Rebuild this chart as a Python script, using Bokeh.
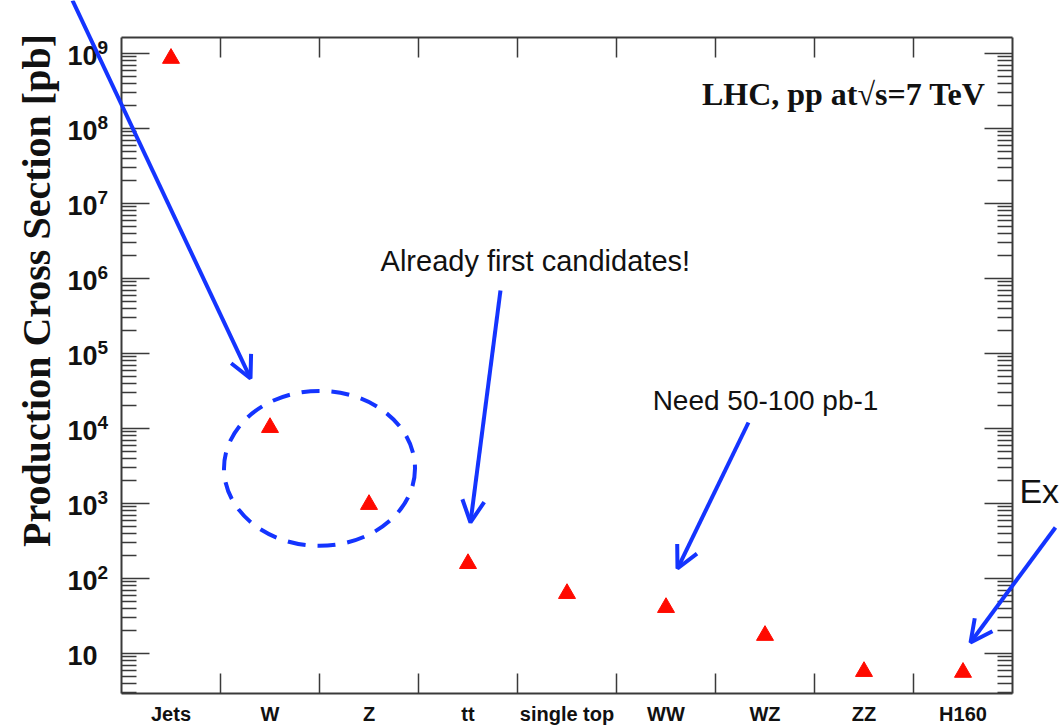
import math
from bokeh.plotting import figure
from bokeh.models import (FixedTicker, LinearAxis, LogAxis, Range1d, Label,
                          Arrow, OpenHead, ColumnDataSource)
from bokeh.embed import file_html
from bokeh.resources import INLINE

# ---------------- data ----------------
categories = ["Jets", "W", "Z", "tt", "single top", "WW", "WZ", "ZZ", "H160"]
cross_section_pb = [8.6e8, 1.03e4, 970, 158, 63, 41, 17.4, 5.75, 5.6]

y_exponents = [1, 2, 3, 4, 5, 6, 7, 8, 9]
y_tick_labels_base = ["10"] * 9
y_tick_labels_exp = ["", "2", "3", "4", "5", "6", "7", "8", "9"]

# ---------------- layout / styles ----------------
BLUE = "#1434ff"
RED = "#ff0a00"
AXIS_COL = "#3a3a3a"
TXT = "#111111"
SANS = "Liberation Sans"
SERIF = "Liberation Serif"
PX_PER_DECADE = 75.0
PX_PER_CAT = 99.0

n = len(categories)
x_pos = list(range(n))
# plotting area bounds (axes drawn at these, the canvas around is free for notes)
X_LO, X_HI = -0.5, n - 0.5
Y_LO, Y_HI = 10 ** (1 - 40 / PX_PER_DECADE), 10 ** (9 + 16 / PX_PER_DECADE)

y_major = [10 ** k for k in y_exponents]
y_minor = [m * 10 ** k for k in range(0, 10) for m in range(2, 10)
           if Y_LO <= m * 10 ** k <= Y_HI]

p = figure(width=1062, height=725,
           x_range=Range1d(X_LO - 121 / PX_PER_CAT, X_LO + 941 / PX_PER_CAT),
           y_range=Range1d(10 ** (1 - 72 / PX_PER_DECADE), 10 ** (9 + 53 / PX_PER_DECADE)),
           y_axis_type="log", x_axis_type="linear",
           output_backend="svg", toolbar_location=None)
p.min_border = 0
p.min_border_left = 0
p.min_border_right = 0
p.min_border_top = 0
p.min_border_bottom = 0
p.xgrid.visible = False
p.ygrid.visible = False
p.outline_line_color = None
p.background_fill_color = "white"
p.border_fill_color = "white"

x_ticker = FixedTicker(ticks=x_pos, minor_ticks=[i + 0.5 for i in x_pos[:-1]])
y_ticker = FixedTicker(ticks=y_major, minor_ticks=y_minor)


def style_x(ax, loc, labels):
    ax.fixed_location = loc
    ax.bounds = (X_LO, X_HI)
    ax.ticker = x_ticker
    ax.major_tick_in = 0
    ax.major_tick_out = 0
    ax.minor_tick_in = 20
    ax.minor_tick_out = 0
    ax.minor_tick_line_color = AXIS_COL
    ax.minor_tick_line_width = 1.5
    ax.axis_line_color = AXIS_COL
    ax.axis_line_width = 2
    ax.major_label_overrides = {i: (c if labels else "") for i, c in enumerate(categories)}
    ax.major_label_text_font = SANS
    ax.major_label_text_font_style = "bold"
    ax.major_label_text_font_size = "20px"
    ax.major_label_text_color = TXT
    ax.major_label_standoff = 9


def style_y(ax, loc):
    ax.fixed_location = loc
    ax.bounds = (Y_LO, Y_HI)
    ax.ticker = y_ticker
    ax.major_tick_in = 28
    ax.major_tick_out = 0
    ax.minor_tick_in = 15
    ax.minor_tick_out = 0
    ax.major_tick_line_color = AXIS_COL
    ax.minor_tick_line_color = AXIS_COL
    ax.major_tick_line_width = 1.5
    ax.minor_tick_line_width = 1.5
    ax.axis_line_color = AXIS_COL
    ax.axis_line_width = 2
    ax.major_label_overrides = {v: "" for v in y_major}


style_x(p.xaxis[0], Y_LO, True)
style_y(p.yaxis[0], X_LO)

top_axis = LinearAxis()
style_x(top_axis, Y_HI, False)
p.add_layout(top_axis, "above")

right_axis = LogAxis()
style_y(right_axis, X_HI)
p.add_layout(right_axis, "right")

# data points
src = ColumnDataSource(dict(x=x_pos, y=cross_section_pb, cat=categories))
p.scatter("x", "y", source=src, marker="triangle", size=17,
          fill_color=RED, line_color=RED)

# y tick labels (10 with superscript exponent)
x_lab = X_LO - 24 / PX_PER_CAT
for k, base, ex in zip(y_exponents, y_tick_labels_base, y_tick_labels_exp):
    p.add_layout(Label(x=x_lab, y=10 ** (k - 2 / PX_PER_DECADE), text=base,
                       text_align="right", text_baseline="middle",
                       text_font=SANS, text_font_style="bold",
                       text_font_size="27px", text_color=TXT))
    if ex:
        p.add_layout(Label(x=x_lab, y=10 ** (k + 6 / PX_PER_DECADE), text=ex,
                           text_align="left", text_baseline="middle",
                           text_font=SANS, text_font_style="bold",
                           text_font_size="19px", text_color=TXT))

# y axis title
p.add_layout(Label(x=X_LO - 85 / PX_PER_CAT, y=10 ** 5.84,
                   text="Production Cross Section [pb]",
                   angle=math.pi / 2, text_align="center", text_baseline="middle",
                   text_font=SERIF, text_font_style="bold", text_font_size="40px",
                   text_color=TXT))

# header text
p.add_layout(Label(x=8.227, y=10 ** 8.46, text="LHC, pp at\u221as=7 TeV",
                   text_align="right", text_baseline="middle",
                   text_font=SERIF, text_font_style="bold", text_font_size="32px",
                   text_color=TXT))

# annotations
p.ellipse(x=[(x_pos[1] + x_pos[2]) / 2],
          y=[math.sqrt(cross_section_pb[1] * cross_section_pb[2]) * 0.93],
          width=191, height=155, width_units="screen", height_units="screen",
          fill_color=None, line_color=BLUE, line_width=4, line_dash="18 12")

p.add_layout(Label(x=3.68, y=10 ** 6.227, text="Already first candidates!",
                   text_align="center", text_baseline="middle",
                   text_font=SANS, text_font_size="29px", text_color=TXT))
p.add_layout(Label(x=6.005, y=10 ** 4.373, text="Need 50-100 pb-1",
                   text_align="center", text_baseline="middle",
                   text_font=SANS, text_font_size="28px", text_color=TXT))
p.add_layout(Label(x=8.57, y=10 ** 3.173, text="Ex",
                   text_align="left", text_baseline="middle",
                   text_font=SANS, text_font_size="34px", text_color=TXT))

arrows = [
    (-0.995, 10 ** 9.707, 0.803, 10 ** 4.667),
    (3.328, 10 ** 5.84, 3.025, 10 ** 2.747),
    (5.833, 10 ** 4.08, 5.116, 10 ** 2.133),
    (8.934, 10 ** 2.68, 8.076, 10 ** 1.147),
]
for xs, ys, xe, ye in arrows:
    p.add_layout(Arrow(x_start=xs, y_start=ys, x_end=xe, y_end=ye,
                       line_color=BLUE, line_width=4,
                       end=OpenHead(size=22, line_color=BLUE, line_width=4)))

open("out.html", "w").write(file_html(p, INLINE))
